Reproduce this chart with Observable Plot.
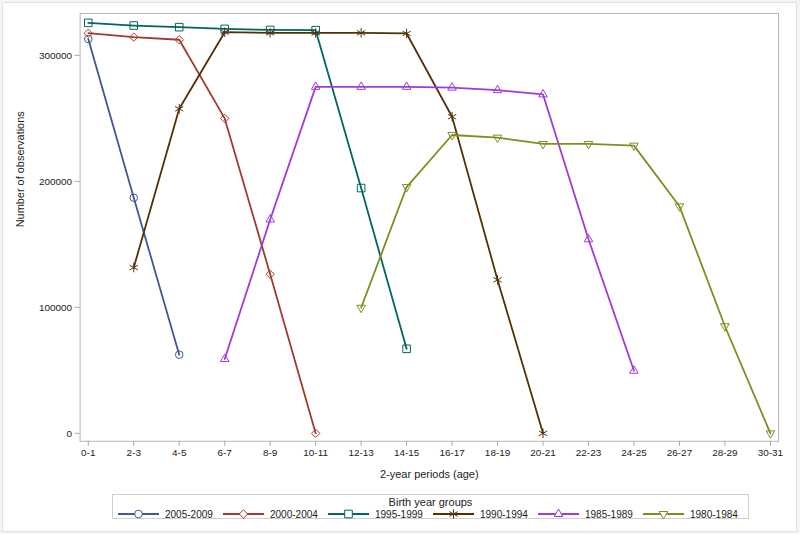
<!DOCTYPE html>
<html>
<head>
<meta charset="utf-8">
<script src="https://cdn.jsdelivr.net/npm/d3@7"></script>
<script src="https://cdn.jsdelivr.net/npm/@observablehq/plot@0.6"></script>
<style>
  html, body { margin: 0; padding: 0; background: #f4f4f4; }
  #page { position: absolute; left: 2px; top: 2px; width: 793px; height: 528px; background: #fff; border: 1px solid #e2e2e2; overflow: hidden; }
  #chart { position: absolute; left: -3px; top: -3px; }
  #legend { position: absolute; left: 109px; top: 491px; width: 637px; height: 25px; border: 1px solid #cfcfcf; font-family: "Liberation Sans", Arial, sans-serif; color: #222; box-sizing: border-box; }
  #legend .title { text-align: center; font-size: 11px; line-height: 12px; margin-top: 1px; }
  #legend .items { display: flex; padding-left: 5px; }
  #legend .item { display: flex; align-items: center; width: 106px; font-size: 10px; line-height: 11px; }
  #legend svg { margin-right: 6px; }
</style>
</head>
<body>
<div id="page">
  <div id="chart"></div>
  <div id="legend"><div class="title">Birth year groups</div><div class="items"></div></div>
</div>
<script>
const periods = ["0-1","2-3","4-5","6-7","8-9","10-11","12-13","14-15","16-17","18-19","20-21","22-23","24-25","26-27","28-29","30-31"];
const groups = ["2005-2009","2000-2004","1995-1999","1990-1994","1985-1989","1980-1984"];
const colors = ["#445694","#A23A2E","#01665E","#543005","#9D3CDB","#7F8E1F"];
const symbols = ["circle","diamond2","square","asterisk","triangle","triangle"];
const rotations = [0,0,0,0,0,180];
const markerR = [3.8, 3.8, 4.3, 4.5, 3.2, 3.2];
const startPeriod = ["0-1","0-1","0-1","2-3","6-7","12-13"];
const yTicks = [0, 100000, 200000, 300000];

const v2005 = [313000, 187000, 62400];
const v2000 = [317600, 314500, 312400, 250000, 126300, 0];
const v1995 = [325800, 323700, 322400, 321000, 320200, 320000, 194700, 67100];
const v1990 = [131600, 257600, 318400, 317900, 317800, 317900, 317400, 251300, 121800, 0];
const v1985 = [59000, 169700, 275000, 275000, 275000, 274400, 272400, 269000, 154000, 49700];
const v1980 = [99700, 195500, 236800, 234700, 229700, 229700, 228400, 180200, 85000, 0];
const seriesValues = [v2005, v2000, v1995, v1990, v1985, v1980];

const rows = [];
groups.forEach((g, i) => {
  const s = periods.indexOf(startPeriod[i]);
  seriesValues[i].forEach((v, k) => rows.push({group: g, period: periods[s + k], value: v}));
});

const font = "'Liberation Sans', Arial, sans-serif";
const chart = Plot.plot({
  width: 800,
  height: 490,
  marginTop: 13,
  marginLeft: 80,
  marginRight: 18,
  marginBottom: 47,
  style: {fontFamily: font, fontSize: "10px", color: "#222", background: "transparent"},
  x: {type: "point", domain: periods, padding: 0.18, round: false},
  y: {domain: [-6300, 333300]},
  color: {domain: groups, range: colors},
  symbol: {domain: groups, range: symbols},
  marks: [
    Plot.frame({stroke: "#b4b4b4"}),
    Plot.axisX({tickSize: 5, tickPadding: 3, stroke: "#a8a8a8", fill: "#222", label: null}),
    Plot.axisY({ticks: yTicks, tickFormat: d => String(d), tickSize: 5, tickPadding: 3, stroke: "#a8a8a8", fill: "#222", label: null}),
    Plot.line(rows, {x: "period", y: "value", z: "group", stroke: "group", strokeWidth: 1.8}),
    ...groups.map((g, i) => Plot.dot(rows.filter(r => r.group === g), {
      x: "period", y: "value", stroke: colors[i], symbol: symbols[i], rotate: rotations[i],
      r: markerR[i], strokeWidth: 1, fill: "none"
    })),
    Plot.text(["2-year periods (age)"], {frameAnchor: "bottom", text: d => d, dy: 33, fontSize: 11, lineAnchor: "middle", fill: "#222"}),
    Plot.text(["Number of observations"], {frameAnchor: "left", text: d => d, dx: -60, rotate: -90, fontSize: 11, lineAnchor: "middle", fill: "#222"})
  ]
});
document.getElementById("chart").appendChild(chart);

// legend
const items = d3.select("#legend .items");
const symMap = {circle: d3.symbolCircle, diamond2: d3.symbolDiamond2, square: d3.symbolSquare, asterisk: d3.symbolAsterisk, triangle: d3.symbolTriangle};
groups.forEach((g, i) => {
  const it = items.append("div").attr("class", "item");
  const svg = it.append("svg").attr("width", 41).attr("height", 12);
  svg.append("line").attr("x1", 0).attr("x2", 41).attr("y1", 6).attr("y2", 6).attr("stroke", colors[i]).attr("stroke-width", 1.8);
  const r = markerR[i];
  svg.append("path")
    .attr("d", d3.symbol(symMap[symbols[i]], Math.PI * r * r)())
    .attr("transform", `translate(20.5,6) rotate(${rotations[i]})`)
    .attr("fill", "#fff").attr("stroke", colors[i]).attr("stroke-width", 1);
  it.append("span").text(g);
});
</script>
</body>
</html>
